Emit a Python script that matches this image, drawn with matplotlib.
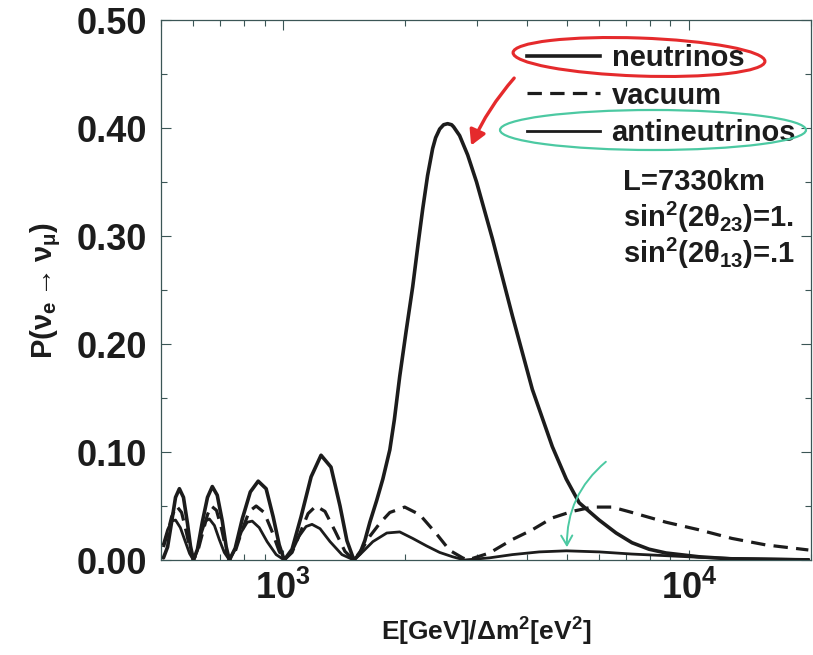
import matplotlib
matplotlib.use("Agg")
import matplotlib.pyplot as plt
from matplotlib.lines import Line2D
from matplotlib.patches import Ellipse, FancyArrowPatch
from matplotlib.transforms import IdentityTransform
from matplotlib.ticker import FixedLocator, MultipleLocator, LogLocator, NullFormatter

# ---------------------------------------------------------------- data
# E[GeV]/dm^2[eV^2] and oscillation probability P(nu_e -> nu_mu)
nu_E = [507, 519, 531, 543, 555, 568, 581, 591, 601,
        615, 632, 651, 669, 688, 708, 724, 737,
        762, 793, 830, 868, 908, 945, 978, 1006,
        1052, 1107, 1172, 1240, 1312, 1381, 1436, 1494,
        1546, 1590, 1636, 1700, 1761, 1832, 1880, 1938, 2010, 2086, 2150, 2208,
        2270, 2336, 2376, 2431, 2486,
        2543, 2602, 2632, 2722, 2850, 2997, 3282, 3674, 4113, 4607, 4986, 5366,
        6010, 6618, 7243, 7975, 8780, 10580, 12760, 19700]
nu_P = [0.002, 0.012, 0.035, 0.058, 0.066, 0.058, 0.034, 0.013, 0.0,
        0.010, 0.035, 0.058, 0.068, 0.060, 0.036, 0.012, 0.0,
        0.011, 0.038, 0.063, 0.073, 0.066, 0.040, 0.014, 0.0,
        0.010, 0.040, 0.077, 0.097, 0.086, 0.050, 0.018, 0.0,
        0.006, 0.018, 0.035, 0.055, 0.075, 0.102, 0.130, 0.170, 0.212, 0.253, 0.292, 0.325,
        0.356, 0.381, 0.391, 0.399, 0.403,
        0.404, 0.403, 0.401, 0.393, 0.375, 0.350, 0.297, 0.226, 0.158, 0.105, 0.075, 0.053,
        0.037, 0.025, 0.016, 0.010, 0.0065, 0.003, 0.001, 0.0]

vac_E = [507, 519, 531, 546, 562, 578, 591, 601,
         615, 632, 651, 665, 685, 704, 724, 737,
         762, 793, 825, 858, 898, 940, 978, 1006,
         1052, 1101, 1152, 1205, 1268, 1342, 1420, 1494,
         1564, 1636, 1731, 1832, 1994, 2171, 2390, 2572, 2769, 2848,
         3226, 3674, 4113, 4607, 5158, 5777, 6470, 7243, 8780, 10580,
         12760, 15460, 19700]
vac_P = [0.012, 0.025, 0.040, 0.050, 0.044, 0.025, 0.008, 0.0,
         0.007, 0.024, 0.042, 0.050, 0.046, 0.030, 0.009, 0.0,
         0.008, 0.028, 0.045, 0.050, 0.044, 0.026, 0.008, 0.0,
         0.007, 0.025, 0.043, 0.050, 0.045, 0.027, 0.008, 0.0,
         0.010, 0.022, 0.034, 0.044, 0.049, 0.042, 0.024, 0.009, 0.002, 0.0,
         0.0065, 0.019, 0.028, 0.039, 0.045, 0.049, 0.049, 0.044, 0.035, 0.028,
         0.020, 0.014, 0.0093]

anu_E = [507, 519, 531, 543, 558, 574, 588, 601,
         615, 629, 643, 658, 677, 696, 716, 737,
         762, 789, 816, 839, 873, 913, 961, 1006,
         1052, 1095, 1139, 1178, 1233, 1305, 1396, 1494,
         1546, 1664, 1801, 1938, 2086, 2258, 2431, 2616, 2800,
         3226, 3674, 4279, 4986, 6010, 7243, 8780, 10580, 12760, 19700]
anu_P = [0.015, 0.028, 0.036, 0.037, 0.030, 0.017, 0.006, 0.0,
         0.009, 0.025, 0.036, 0.038, 0.032, 0.019, 0.007, 0.0,
         0.010, 0.026, 0.035, 0.036, 0.030, 0.017, 0.005, 0.0,
         0.008, 0.022, 0.031, 0.033, 0.029, 0.017, 0.005, 0.0,
         0.005, 0.017, 0.025, 0.026, 0.020, 0.013, 0.007, 0.003, 0.0,
         0.002, 0.005, 0.0075, 0.0085, 0.0075, 0.0055, 0.004, 0.0025, 0.0015, 0.0005]

series_labels = ["neutrinos", "vacuum", "antineutrinos"]
y_ticks = [0.0, 0.1, 0.2, 0.3, 0.4, 0.5]
y_tick_labels = ["0.00", "0.10", "0.20", "0.30", "0.40", "0.50"]
x_ticks = [1e3, 1e4]
x_tick_labels = ["10$^{3}$", "10$^{4}$"]
params_text = ["L=7330km", r"sin$^{2}$(2$\theta_{23}$)=1.", r"sin$^{2}$(2$\theta_{13}$)=.1"]

# ---------------------------------------------------------------- style
plt.rcParams.update({
    "font.family": ["Liberation Sans", "DejaVu Sans"],
    "font.weight": "bold",
    "axes.labelweight": "bold",
    "mathtext.fontset": "custom",
    "mathtext.rm": "Liberation Sans:bold",
    "mathtext.bf": "Liberation Sans:bold",
    "mathtext.it": "Liberation Sans:bold",
    "mathtext.sf": "Liberation Sans:bold",
    "mathtext.default": "bf",
})

INK = "#1c1c1c"
SPINE = "#3b5656"
RED = "#e52a2c"
GREEN = "#4cc9a2"

fig = plt.figure(figsize=(8.13, 6.55), dpi=100)
ax = fig.add_axes([161 / 813, 1 - 560 / 655, 650 / 813, 540 / 655])

ax.plot(nu_E, nu_P, color=INK, lw=2.6, solid_capstyle="round", zorder=4)
ax.plot(vac_E, vac_P, color=INK, lw=2.3, dashes=(4.5, 2.6), zorder=3)
ax.plot(anu_E, anu_P, color=INK, lw=2.0, zorder=3)

ax.set_xscale("log")
ax.set_xlim(500, 20000)
ax.set_ylim(0, 0.5)

ax.yaxis.set_major_locator(FixedLocator(y_ticks))
ax.set_yticklabels(y_tick_labels)
ax.yaxis.set_minor_locator(MultipleLocator(0.05))
ax.xaxis.set_major_locator(FixedLocator(x_ticks))
ax.set_xticklabels(x_tick_labels)
ax.xaxis.set_minor_locator(LogLocator(base=10, subs=range(2, 10)))
ax.xaxis.set_minor_formatter(NullFormatter())

ax.tick_params(axis="both", which="both", direction="in", colors=SPINE,
               top=True, right=True, width=0.8)
ax.tick_params(axis="both", which="major", length=7)
ax.tick_params(axis="both", which="minor", length=4)
ax.tick_params(axis="y", which="major", labelsize=26, labelcolor=INK, pad=10)
ax.tick_params(axis="x", which="major", labelsize=26, labelcolor=INK, pad=8)
for s in ax.spines.values():
    s.set_color(SPINE)
    s.set_linewidth(0.9)

ax.set_ylabel(r"P($\nu_{e}$$\rightarrow$$\nu_{\mu}$)", fontsize=21, color=INK, labelpad=10)
ax.set_xlabel(r"E[GeV]/$\Delta$m$^{2}$[eV$^{2}$]", fontsize=19, color=INK, labelpad=6)

handles = [Line2D([], [], color=INK, lw=2.6),
           Line2D([], [], color=INK, lw=2.3, dashes=(4.5, 2.6)),
           Line2D([], [], color=INK, lw=2.0)]
ax.legend(handles, series_labels, loc="upper left", bbox_to_anchor=(0.563, 0.955),
          frameon=False, fontsize=21, handlelength=2.5, handletextpad=0.4,
          labelspacing=0.32, borderaxespad=0.0, borderpad=0.0, labelcolor=INK)

for i, t in enumerate(params_text):
    ax.text(0.71, 0.70 - i * 0.066, t, transform=ax.transAxes, fontsize=21,
            color=INK, va="center", ha="left")

# hand-drawn highlighting
ident = IdentityTransform()
H = 655
fig.patches.append(Ellipse((639, H - 57), 252, 38, angle=-2, fill=False,
                           edgecolor=RED, lw=2.2, transform=ident))
fig.patches.append(Ellipse((653, H - 130), 306, 40, angle=0, fill=False,
                           edgecolor=GREEN, lw=1.6, transform=ident))
fig.patches.append(FancyArrowPatch((516, H - 76), (470, H - 148),
                                   arrowstyle="-|>,head_length=9,head_width=5",
                                   connectionstyle="arc3,rad=0.08",
                                   color=RED, lw=2.4, transform=ident))
fig.patches.append(FancyArrowPatch((608, H - 460), (567, H - 550),
                                   arrowstyle="->,head_length=7,head_width=4",
                                   connectionstyle="arc3,rad=0.25",
                                   color=GREEN, lw=1.4, transform=ident))

fig.savefig("out.png", dpi=100)
